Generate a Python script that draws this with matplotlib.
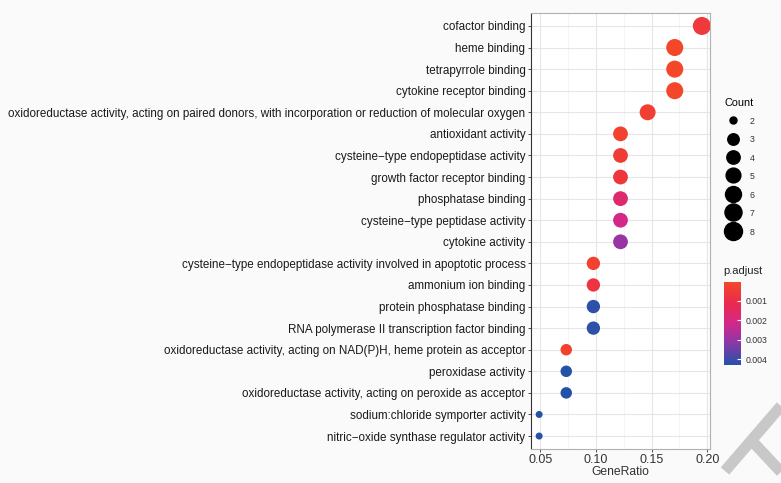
import numpy as np
import matplotlib.pyplot as plt
from matplotlib.colors import LinearSegmentedColormap, Normalize
from matplotlib.lines import Line2D

plt.rcParams['font.family'] = ['Liberation Sans', 'DejaVu Sans']

# GO molecular function terms, top to bottom
terms = [
    "cofactor binding",
    "heme binding",
    "tetrapyrrole binding",
    "cytokine receptor binding",
    "oxidoreductase activity, acting on paired donors, with incorporation or reduction of molecular oxygen",
    "antioxidant activity",
    "cysteine\u2212type endopeptidase activity",
    "growth factor receptor binding",
    "phosphatase binding",
    "cysteine\u2212type peptidase activity",
    "cytokine activity",
    "cysteine\u2212type endopeptidase activity involved in apoptotic process",
    "ammonium ion binding",
    "protein phosphatase binding",
    "RNA polymerase II transcription factor binding",
    "oxidoreductase activity, acting on NAD(P)H, heme protein as acceptor",
    "peroxidase activity",
    "oxidoreductase activity, acting on peroxide as acceptor",
    "sodium:chloride symporter activity",
    "nitric\u2212oxide synthase regulator activity",
]
counts = [8, 7, 7, 7, 6, 5, 5, 5, 5, 5, 5, 4, 4, 4, 4, 3, 3, 3, 2, 2]
n_genes = 41
p_adjust = [0.00055, 0.00005, 0.00005, 0.00005, 0.00035, 0.00022, 0.00045,
            0.00065, 0.00170, 0.00210, 0.00300, 0.00022, 0.00075, 0.00420,
            0.00420, 0.00022, 0.00430, 0.00430, 0.00430, 0.00430]

counts = np.array(counts)
gene_ratio = counts / n_genes
p_adjust = np.array(p_adjust)
ypos = np.arange(len(terms))

cmap = LinearSegmentedColormap.from_list(
    "padj", [(0.0, "#f4472a"), (0.25, "#ea2a4c"), (0.5, "#d2288a"),
             (0.72, "#8f37a6"), (1.0, "#2452a8")])
norm = Normalize(vmin=p_adjust.min(), vmax=p_adjust.max())

# point diameter (px) grows with sqrt of scaled count, like scale_size
def size_of(c):
    d = 7 + 11 * np.sqrt((c - counts.min()) / (counts.max() - counts.min()))
    return (d * 0.72) ** 2

fig = plt.figure(figsize=(7.81, 4.83), dpi=100, facecolor='#fafafa')
ax = fig.add_axes([531 / 781, 34 / 483, 179 / 781, 436 / 483])
ax.set_facecolor('white')

ax.scatter(gene_ratio, ypos, s=size_of(counts), c=p_adjust, cmap=cmap, norm=norm,
           zorder=3, linewidths=0)

span = gene_ratio.max() - gene_ratio.min()
ax.set_xlim(gene_ratio.min() - 0.05 * span, gene_ratio.max() + 0.05 * span)
ax.set_ylim(len(terms) - 0.4, -0.6)

ax.set_xticks([0.05, 0.10, 0.15, 0.20])
ax.set_xticklabels(["0.05", "0.10", "0.15", "0.20"])
ax.set_xticks([0.075, 0.125, 0.175], minor=True)
ax.set_yticks(ypos)
ax.set_yticklabels(terms)
ax.grid(True, which='major', color='#e6e6e6', linewidth=0.8, zorder=0)
ax.grid(True, which='minor', axis='x', color='#f0f0f0', linewidth=0.5, zorder=0)
ax.set_axisbelow(True)
ax.tick_params(axis='y', labelsize=8.4, length=2.5, width=0.6, color='#333333',
               labelcolor='#1a1a1a', pad=1.5)
ax.tick_params(axis='x', labelsize=9, length=2.5, width=0.6, color='#333333',
               labelcolor='#333333', pad=1)
ax.tick_params(which='minor', length=0)
for side in ['top', 'right', 'bottom']:
    ax.spines[side].set_color('#b0b0b0')
    ax.spines[side].set_linewidth(0.8)
ax.spines['left'].set_color('#333333')
ax.spines['left'].set_linewidth(0.8)
ax.set_xlabel("GeneRatio", fontsize=8.7, color='#333333', labelpad=0)

# size legend
legend_counts = np.arange(counts.min(), counts.max() + 1)
handles = [Line2D([], [], linestyle='none', marker='o', color='black',
                  markersize=np.sqrt(size_of(c))) for c in legend_counts]
leg = fig.legend(handles, [str(c) for c in legend_counts], title="Count",
                 loc='upper left', bbox_to_anchor=(721 / 781, 1 - 94 / 483),
                 frameon=False, fontsize=6.3, title_fontsize=7.8,
                 handlelength=2.0, handleheight=1.3, labelspacing=1.0,
                 handletextpad=0.9, borderaxespad=0, alignment='left')
for t in leg.get_texts():
    t.set_color('#333333')

# colour bar for p.adjust, low values at the top
cax = fig.add_axes([724 / 781, (483 - 365) / 483, 17 / 781, 83 / 483])
cb = fig.colorbar(plt.cm.ScalarMappable(norm=norm, cmap=cmap), cax=cax)
cax.invert_yaxis()
cb.set_ticks([0.001, 0.002, 0.003, 0.004])
cb.set_ticklabels(["0.001", "0.002", "0.003", "0.004"])
cb.outline.set_visible(False)
cax.tick_params(labelsize=6.3, length=3, color='white', width=0.8,
                labelcolor='#333333', pad=3, direction='in')
fig.text(723 / 781, 1 - 271 / 483, "p.adjust", fontsize=8, va='center',
         ha='left', color='#222222')

# grey stroke in the lower right corner
fig.add_artist(Line2D([725 / 781, 1.0], [1 - 471 / 483, 1 - 406 / 483],
                      color='#c8c8c8', linewidth=8, solid_capstyle='butt'))
fig.add_artist(Line2D([752 / 781, 1.0], [1 - 441 / 483, 1 - 472 / 483],
                      color='#c8c8c8', linewidth=8, solid_capstyle='butt'))

fig.savefig("out.png", dpi=100, facecolor=fig.get_facecolor())
